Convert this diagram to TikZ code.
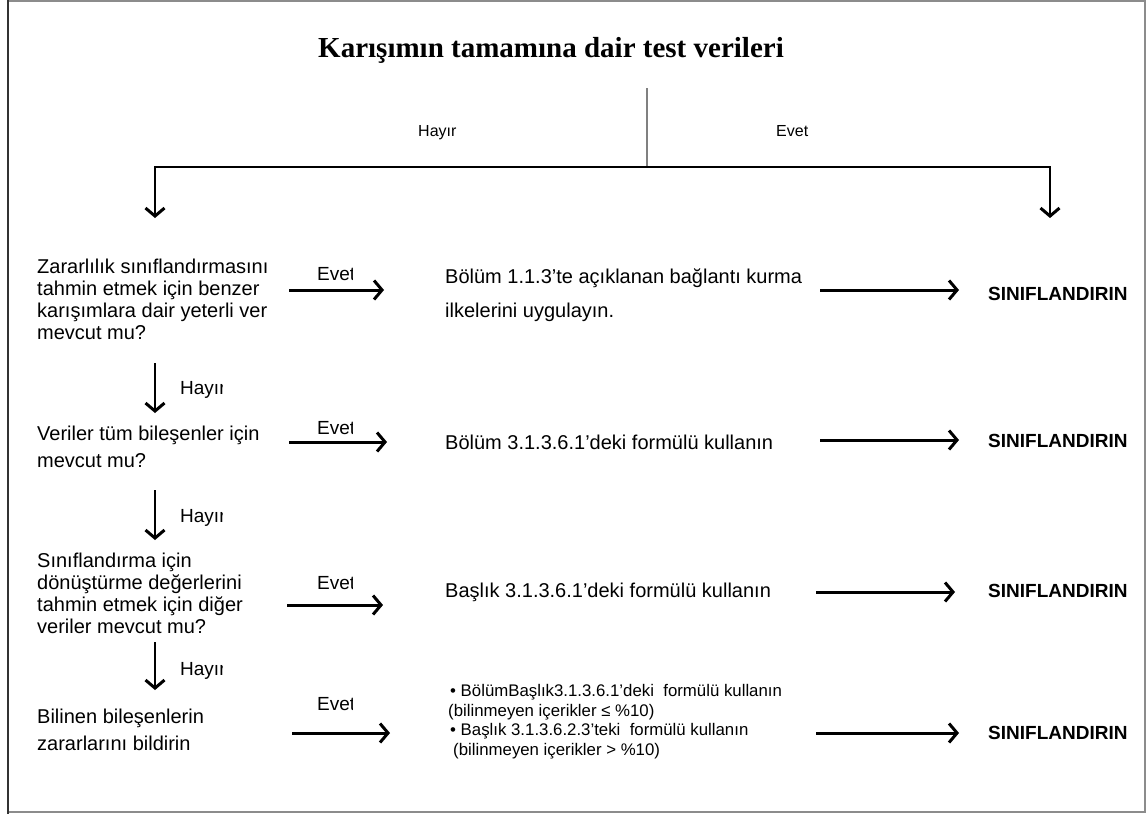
\documentclass[tikz,border=0pt]{standalone}
\usepackage{fontspec}
\setmainfont{Liberation Sans}
\newfontfamily\titlefont{Liberation Serif}
\usetikzlibrary{arrows.meta}
\begin{document}
\begin{tikzpicture}[x=1pt,y=-1pt,
  % multi-line nodes are placed by the baseline of their last line
  txt/.style={inner sep=0pt, anchor=base west, align=left, font=\fontsize{20}{22}\selectfont},
  wide/.style={txt, font=\fontsize{20}{27}\selectfont},
  small/.style={inner sep=0pt, anchor=base west, align=left, font=\fontsize{16.8}{19.5}\selectfont},
  lbl/.style={inner sep=0pt, anchor=base west, font=\fontsize{19}{22}\selectfont},
  toplbl/.style={inner sep=0pt, anchor=base west, font=\fontsize{16}{18}\selectfont},
  res/.style={inner sep=0pt, anchor=base west, font=\bfseries\fontsize{19}{22}\selectfont},
  tip/.style={-{Straight Barb[length=8pt,width=19pt,line width=3pt]}},
  harr/.style={line width=3pt, tip},
  varr/.style={line width=2.6pt, tip},
  fork/.style={line width=2.6pt, tip},
]
\useasboundingbox (0,0) rectangle (1147,814);
% outer frame
\draw[black!45, line width=2pt] (8,1) rectangle (1145,812);
\draw[black!80, line width=2.5pt] (8,0) -- (8,814);

% title and first split
\node[inner sep=0pt, anchor=base, font=\titlefont\bfseries\fontsize{29}{30}\selectfont] (title) at (551,57) {Karışımın tamamına dair test verileri};
\coordinate (ftop) at (647,88);
\coordinate (fjoin) at (647,167);
\coordinate (dl) at (155,218);
\coordinate (dr) at (1050,218);
\draw[black!50, line width=2.5pt] (ftop) -- (fjoin);
\draw[fork] (fjoin) -| (dl);
\draw[fork] (fjoin) -| (dr);
\node[toplbl] (hno) at (418,136) {Hayır};
\node[toplbl] (hyes) at (776,136) {Evet};

% left column questions
\begin{scope}
  \clip (0,240) rectangle (267,360);
  \node[txt] (q1) at (37,339) {Zararlılık sınıflandırmasını\\tahmin etmek için benzer\\karışımlara dair yeterli veri\\mevcut mu?};
\end{scope}
\node[wide] (q2) at (37,467) {Veriler tüm bileşenler için\\mevcut mu?};
\node[txt] (q3) at (37,633) {Sınıflandırma için\\dönüştürme değerlerini\\tahmin etmek için diğer\\veriler mevcut mu?};
\node[wide] (q4) at (37,750) {Bilinen bileşenlerin\\zararlarını bildirin};

% "no" arrows down the left column
\coordinate (n1a) at (155,363); \coordinate (n1b) at (155,413);
\coordinate (n2a) at (155,490); \coordinate (n2b) at (155,540);
\coordinate (n3a) at (155,642); \coordinate (n3b) at (155,690);
\draw[varr] (n1a) -- (n1b);
\draw[varr] (n2a) -- (n2b);
\draw[varr] (n3a) -- (n3b);
\begin{scope}
  \clip (170,370) rectangle (222,700);
  \node[lbl] (no1) at (180,394) {Hayır};
  \node[lbl] (no2) at (180,522) {Hayır};
  \node[lbl] (no3) at (180,675) {Hayır};
\end{scope}

% "yes" arrows to the actions
\coordinate (y1a) at (289,290); \coordinate (y1b) at (384,290);
\coordinate (y2a) at (289,442); \coordinate (y2b) at (387,442);
\coordinate (y3a) at (287,605); \coordinate (y3b) at (383,605);
\coordinate (y4a) at (292,733); \coordinate (y4b) at (390,733);
\draw[harr] (y1a) -- (y1b);
\draw[harr] (y2a) -- (y2b);
\draw[harr] (y3a) -- (y3b);
\draw[harr] (y4a) -- (y4b);
\begin{scope}
  \clip (300,250) rectangle (352,720);
  \node[lbl] (ev1) at (317,280) {Evet};
  \node[lbl] (ev2) at (317,434) {Evet};
  \node[lbl] (ev3) at (317,589) {Evet};
  \node[lbl] (ev4) at (317,710) {Evet};
\end{scope}

% actions
\node[txt, font=\fontsize{20}{34}\selectfont] (m1) at (445,317) {Bölüm 1.1.3'te açıklanan bağlantı kurma\\ilkelerini uygulayın.};
\node[txt] (m2) at (445,449) {Bölüm 3.1.3.6.1'deki formülü kullanın};
\node[txt] (m3) at (445,597) {Başlık 3.1.3.6.1'deki formülü kullanın};
\node[small] (m4) at (450,755) {• BölümBaşlık3.1.3.6.1'deki\ \ formülü kullanın\\\hspace*{-2pt}(bilinmeyen içerikler ≤ \%10)\\• Başlık 3.1.3.6.2.3'teki\ \ formülü kullanın\\\hspace*{3pt}(bilinmeyen içerikler > \%10)};

% arrows to the result
\coordinate (r1a) at (820,290); \coordinate (r1b) at (959,290);
\coordinate (r2a) at (820,440); \coordinate (r2b) at (959,440);
\coordinate (r3a) at (816,592); \coordinate (r3b) at (955,592);
\coordinate (r4a) at (816,733); \coordinate (r4b) at (959,733);
\draw[harr] (r1a) -- (r1b);
\draw[harr] (r2a) -- (r2b);
\draw[harr] (r3a) -- (r3b);
\draw[harr] (r4a) -- (r4b);
\node[res] (s1) at (988,300) {SINIFLANDIRIN};
\node[res] (s2) at (988,447) {SINIFLANDIRIN};
\node[res] (s3) at (988,597) {SINIFLANDIRIN};
\node[res] (s4) at (988,739) {SINIFLANDIRIN};
\end{tikzpicture}
\end{document}
